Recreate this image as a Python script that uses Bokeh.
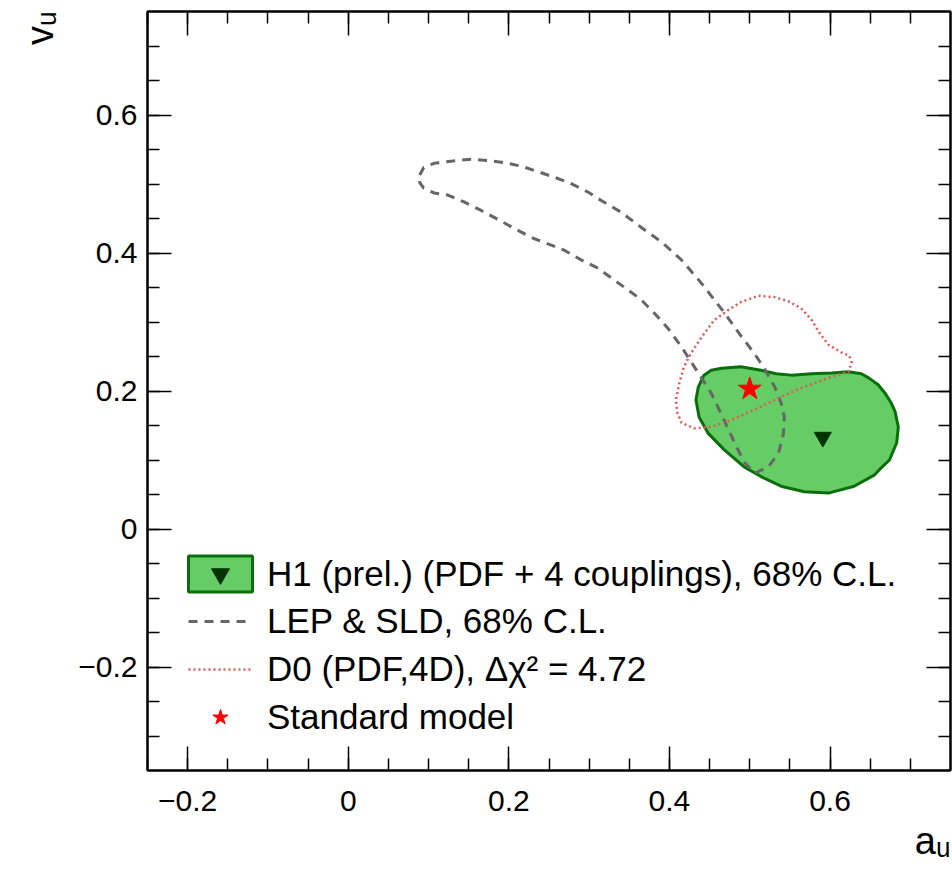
from bokeh.plotting import figure
from bokeh.models import (Range1d, LinearAxis, SingleIntervalTicker, CustomJSTickFormatter,
                          CustomLabelingPolicy, Legend, LegendItem, Title)
from bokeh.embed import file_html
from bokeh.resources import INLINE

# ---- data (a_u, v_u) ----
H1_a = [0.443, 0.452, 0.465, 0.489, 0.514, 0.533, 0.552, 0.577, 0.602, 0.623, 0.639, 0.648,
        0.660, 0.669, 0.676, 0.681, 0.685, 0.683, 0.674, 0.664, 0.655, 0.630, 0.598, 0.568,
        0.539, 0.514, 0.493, 0.468, 0.448, 0.437, 0.433, 0.436]
H1_v = [0.223, 0.230, 0.233, 0.235, 0.230, 0.225, 0.223, 0.225, 0.226, 0.228, 0.225, 0.219,
        0.209, 0.196, 0.183, 0.170, 0.148, 0.125, 0.100, 0.089, 0.078, 0.062, 0.052, 0.054,
        0.062, 0.076, 0.090, 0.115, 0.139, 0.162, 0.187, 0.206]

LEP_a = [0.089, 0.094, 0.107, 0.128, 0.153, 0.174, 0.194, 0.215, 0.236, 0.256, 0.277, 0.299,
         0.315, 0.340, 0.365, 0.390, 0.415, 0.440, 0.468, 0.489, 0.506, 0.518, 0.531, 0.539,
         0.543, 0.542, 0.536, 0.523, 0.506, 0.493, 0.481, 0.468, 0.452, 0.431, 0.415, 0.398,
         0.381, 0.365, 0.349, 0.331, 0.311, 0.290, 0.269, 0.256, 0.231, 0.206, 0.186, 0.165,
         0.144, 0.124, 0.107, 0.094, 0.089]
LEP_v = [0.513, 0.524, 0.530, 0.533, 0.536, 0.534, 0.531, 0.526, 0.518, 0.510, 0.501, 0.488,
         0.476, 0.459, 0.437, 0.416, 0.390, 0.356, 0.314, 0.280, 0.254, 0.233, 0.206, 0.183,
         0.162, 0.139, 0.110, 0.090, 0.081, 0.097, 0.125, 0.158, 0.197, 0.235, 0.264, 0.291,
         0.313, 0.332, 0.346, 0.361, 0.378, 0.390, 0.404, 0.410, 0.421, 0.436, 0.449, 0.462,
         0.474, 0.484, 0.487, 0.494, 0.502]

D0_a = [0.511, 0.531, 0.548, 0.564, 0.577, 0.587, 0.598, 0.614, 0.624, 0.627, 0.623, 0.598,
        0.577, 0.555, 0.531, 0.506, 0.477, 0.452, 0.431, 0.415, 0.410, 0.408, 0.412, 0.418,
        0.427, 0.440, 0.456, 0.473, 0.489, 0.511]
D0_v = [0.338, 0.336, 0.330, 0.320, 0.303, 0.284, 0.267, 0.256, 0.251, 0.241, 0.228, 0.219,
        0.210, 0.200, 0.187, 0.173, 0.158, 0.148, 0.146, 0.154, 0.168, 0.187, 0.210, 0.235,
        0.255, 0.278, 0.303, 0.317, 0.329, 0.338]

H1_best_a = [0.591]
H1_best_v = [0.133]
SM_a = [0.500]
SM_v = [0.203]

labels = ["H1 (prel.) (PDF + 4 couplings), 68% C.L.",
          "LEP & SLD, 68% C.L.",
          "D0 (PDF,4D), \u0394\u03c7\u00b2 = 4.72",
          "Standard model"]
x_title = "a\u1d64"
y_title = "v\u1d64"

FONT = "Liberation Sans"

p = figure(width=952, height=873, output_backend="svg", toolbar_location=None,
           x_range=Range1d(-0.25, 0.75), y_range=Range1d(-0.35, 0.75),
           x_axis_location=None, y_axis_location=None,
           min_border_left=147, min_border_right=2, min_border_top=11, min_border_bottom=103,
           background_fill_color="white", border_fill_color="white")
p.outline_line_color = "black"
p.outline_line_width = 2
p.grid.visible = False
for g in p.xgrid + p.ygrid:
    g.visible = False

fmt = CustomJSTickFormatter(code="""
const v = Math.round(tick * 10) / 10;
if (Math.abs(v) < 1e-9) return '0';
return (v < 0 ? '\\u2212' : '') + Math.abs(v).toFixed(1);
""")

hide_all = CustomLabelingPolicy(code="""
const all = [...indices];
for (const i of all) indices.unset(i);
return indices;
""")


def make_axis(show):
    ax = LinearAxis(ticker=SingleIntervalTicker(interval=0.2, num_minor_ticks=4), formatter=fmt)
    ax.major_tick_in = 24
    ax.major_tick_out = 0
    ax.minor_tick_in = 12
    ax.minor_tick_out = 0
    ax.axis_line_width = 2
    ax.axis_line_color = "black"
    ax.major_tick_line_width = 1.5
    ax.minor_tick_line_width = 1.5
    ax.major_tick_line_color = "black"
    ax.minor_tick_line_color = "black"
    if show:
        ax.major_label_text_font = FONT
        ax.major_label_text_font_size = "30px"
        ax.major_label_text_color = "black"
    else:
        ax.major_label_text_font_size = "0px"
        ax.major_label_standoff = 0
        ax.major_label_policy = hide_all
    return ax


xb = make_axis(True)
xb.major_label_standoff = 20
yl = make_axis(True)
yl.major_label_standoff = 10
xt = make_axis(False)
yr = make_axis(False)
p.add_layout(xb, "below")
p.add_layout(yl, "left")
p.add_layout(xt, "above")
p.add_layout(yr, "right")

# ---- axis titles ----
p.add_layout(Title(text=x_title, align="right", text_font=FONT, text_font_size="38px",
                   text_font_style="normal", text_color="black", standoff=8), "below")
p.add_layout(Title(text=y_title, align="right", text_font=FONT, text_font_size="38px",
                   text_font_style="normal", text_color="black", standoff=29), "left")

# ---- contours ----
h1 = p.patch(H1_a, H1_v, fill_color="#66cc66", line_color="#0a6e0a", line_width=3)
lep = p.line(LEP_a + LEP_a[:1], LEP_v + LEP_v[:1], line_color="#666666", line_width=3,
             line_dash="9 7")
d0 = p.line(D0_a, D0_v, line_color="#dc5a5a", line_width=2.5, line_dash="2 3")
tri = p.scatter(H1_best_a, H1_best_v, marker="inverted_triangle", size=17,
                fill_color="#003300", line_color="#003300")
sm = p.scatter(SM_a, SM_v, marker="star", size=24, fill_color="red", line_color="red")

# ---- legends ----
leg1 = Legend(items=[LegendItem(label=labels[0], renderers=[h1, tri])],
              location=(33, 174), glyph_width=80, glyph_height=45, label_height=45,
              label_standoff=7, padding=0, margin=0, spacing=0,
              label_text_font=FONT, label_text_font_size="35px", label_text_color="black",
              border_line_color=None, background_fill_alpha=0)
leg2 = Legend(items=[LegendItem(label=labels[1], renderers=[lep]),
                     LegendItem(label=labels[2], renderers=[d0]),
                     LegendItem(label=labels[3], renderers=[sm])],
              location=(41, 33), glyph_width=64, glyph_height=40, label_height=40,
              label_standoff=15, padding=0, margin=0, spacing=8,
              label_text_font=FONT, label_text_font_size="35px", label_text_color="black",
              border_line_color=None, background_fill_alpha=0)
p.add_layout(leg1)
p.add_layout(leg2)

open("out.html", "w").write(file_html(p, INLINE))
